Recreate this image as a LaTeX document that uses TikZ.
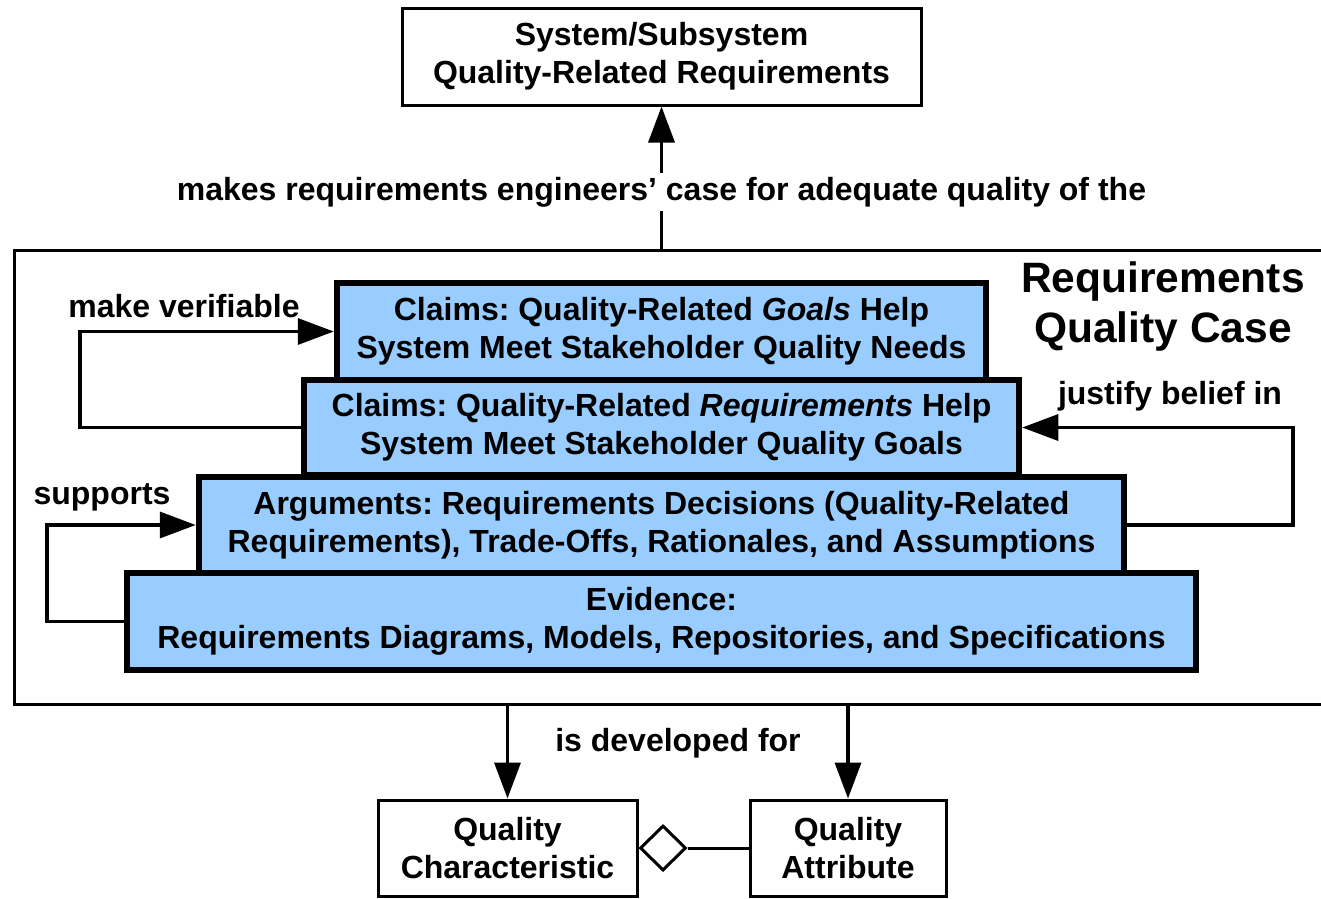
\documentclass[tikz,border=0pt]{standalone}
\usepackage{fontspec}
\setmainfont{Liberation Sans}
\usetikzlibrary{positioning}
\usetikzlibrary{arrows.meta}
\usetikzlibrary{shapes.geometric}
\definecolor{caseblue}{HTML}{99CCFF}
\frenchspacing
\tikzset{
	plainbox/.style={draw, line width=3pt, fill=white, align=center, inner sep=0pt},
	casebox/.style={draw, line width=6.5pt, fill=caseblue, align=center, inner sep=0pt},
	link/.style={line width=3.5pt},
	tip/.style={-{Triangle[length=36pt,width=26pt]}},
}

\begin{document}
\begin{tikzpicture}[x=1pt,y=-1pt,font=\fontsize{32}{38}\selectfont\bfseries]
				\useasboundingbox (0,0) rectangle (1321,898);
					%Nodes
				\node[plainbox, minimum width=519, minimum height=97] (topreq) at (661.5,56.5) {System/Subsystem\\Quality-Related Requirements};
				\node[plainbox, minimum width=1311, minimum height=454] (qcase) at (669.5,477) {};
				\node[align=center, font=\fontsize{42.5}{50}\selectfont\bfseries] (qcasetitle) at (1163,307) {Requirements\\Quality Case};

				\node[casebox, minimum width=649, minimum height=97] (claimsgoals) at (661.5,331.5) {Claims: Quality-Related \textit{Goals} Help\\System Meet Stakeholder Quality Needs};
				\node[casebox, minimum width=715, minimum height=95] (claimsreq) at (661.5,427.5) {Claims: Quality-Related \textit{Requirements} Help\\System Meet Stakeholder Quality Goals};
				\node[casebox, minimum width=925, minimum height=96] (arguments) at (661.5,525) {Arguments: Requirements Decisions (Quality-Related\\Requirements), Trade-Offs, Rationales, and Assumptions};
				\node[casebox, minimum width=1069, minimum height=97] (evidence) at (661.5,621.5) {Evidence:\\Requirements Diagrams, Models, Repositories, and Specifications};

				\node[plainbox, minimum width=259, minimum height=96] (qchar) at (507.5,848) {Quality\\Characteristic};
				\node[plainbox, minimum width=196, minimum height=96] (qattr) at (848,848) {Quality\\Attribute};
				\node[diamond, draw, line width=3pt, minimum width=46, minimum height=45, inner sep=0pt, anchor=west] (agg) at (qchar.east) {};

				%Lines
				\draw[link,tip] (topreq.south |- qcase.north) -- (topreq.south);
				\node[fill=white, inner xsep=2pt, inner ysep=4pt] (makeslbl) at (661.5,192) {makes requirements engineers’ case for adequate quality of the};

				\draw[link,tip] (claimsreq.west) -| (80,380) |- (claimsgoals.west);
				\node (verlbl) at (184,306) {make verifiable};
				\draw[link,tip] (evidence.west) -| (47,570) |- (arguments.west);
				\node (suplbl) at (102,497) {supports};
				\draw[link,tip] (arguments.east) -| (1293,480) |- (claimsreq.east);
				\node (juslbl) at (1170,396) {justify belief in};

				\draw[link,tip] (qchar.north |- qcase.south) -- (qchar.north);
				\draw[link,tip] (qattr.north |- qcase.south) -- (qattr.north);
				\node (devlbl) at (678,743) {is developed for};
				\draw[line width=3pt] (agg.east) -- (qattr.west);

				\end{tikzpicture}
\end{document}
